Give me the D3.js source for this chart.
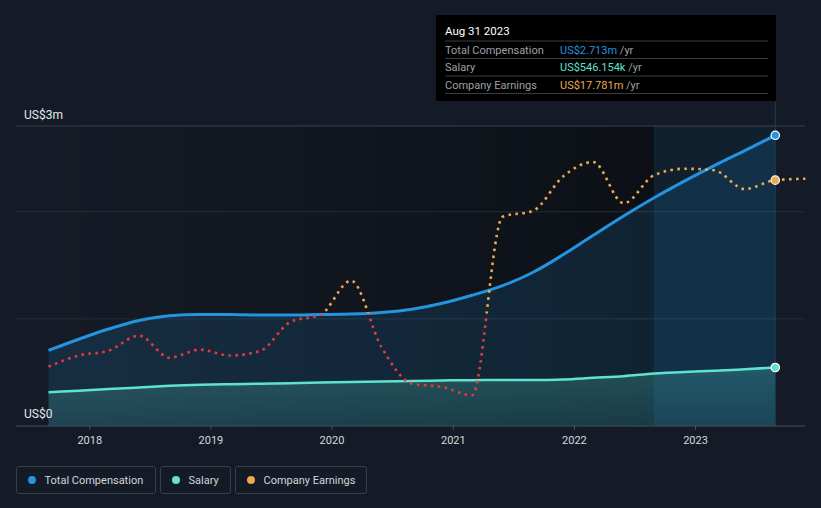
<!DOCTYPE html>
<html>
<head>
<meta charset="utf-8">
<script src="https://cdn.jsdelivr.net/npm/d3@7"></script>
<style>
  html, body { margin: 0; padding: 0; background: #151b26; }
  svg { display: block; font-family: Roboto, "Open Sans", sans-serif; }
</style>
</head>
<body>
<svg id="chart" width="821" height="508"></svg>
<script>
// ---------- DATA ----------
const dates = [
  "2017-08-31","2017-11-30","2018-02-28","2018-05-31","2018-08-31","2018-11-30",
  "2019-02-28","2019-05-31","2019-08-31","2019-11-30","2020-02-29","2020-05-31",
  "2020-08-31","2020-11-30","2021-02-28","2021-05-31","2021-08-31","2021-11-30",
  "2022-02-28","2022-05-31","2022-08-31","2022-11-30","2023-02-28","2023-05-31",
  "2023-08-31"
];
// US$ millions
const totalComp = [
  0.705, 0.81, 0.905, 0.985, 1.03, 1.04,
  1.04, 1.035, 1.035, 1.04, 1.045, 1.06,
  1.09, 1.145, 1.22, 1.31, 1.435, 1.60,
  1.78, 1.96, 2.13, 2.285, 2.43, 2.57,
  2.713
];
const salary = [
  0.315, 0.33, 0.345, 0.36, 0.375, 0.385,
  0.39, 0.395, 0.40, 0.405, 0.41, 0.415,
  0.42, 0.425, 0.428, 0.43, 0.43, 0.435,
  0.45, 0.465, 0.49, 0.505, 0.515, 0.53,
  0.546154
];
const earningsDates = dates.concat(["2023-11-30"]);
// US$ millions
const earnings = [
  -7.09, -5.6, -4.96, -2.95, -5.9, -4.82,
  -5.6, -5.0, -1.1, -0.15, 4.38, -4.5,
  -9.35, -9.8, -10.9, 12.9, 13.7, 18.3,
  20.2, 14.7, 18.45, 19.3, 19.1, 16.6,
  17.781, 17.97
];
const highlightStart = "2022-08-31";
const highlightEnd = "2023-08-31";
const yTickLabels = ["US$0", "US$3m"];
const gridValues = [1, 2];
const tooltipTitle = "Aug 31 2023";
const tooltipRows = [
  { label: "Total Compensation", value: "US$2.713m", color: "#2394df" },
  { label: "Salary", value: "US$546.154k", color: "#5fe3cd" },
  { label: "Company Earnings", value: "US$17.781m", color: "#e9aa50" }
];
const legendItems = [
  { label: "Total Compensation", color: "#2394df" },
  { label: "Salary", color: "#5fe3cd" },
  { label: "Company Earnings", color: "#e9aa50" }
];

// ---------- SETUP ----------
const parse = d3.timeParse("%Y-%m-%d");
const svg = d3.select("#chart");
const W = 821, H = 508;
const plotLeft = 16, plotRight = 805, plotTop = 126, plotBottom = 426;

const x = d3.scaleTime()
  .domain([new Date(2018, 0, 1), new Date(2023, 0, 1)])
  .range([89.3, 695]);
const y = d3.scaleLinear().domain([0, 2.8]).range([plotBottom, plotTop]);
const yE = d3.scaleLinear().domain([-15, 25]).range([plotBottom, plotTop]);

const compData = dates.map((d, i) => ({ date: parse(d), v: totalComp[i] }));
const salData = dates.map((d, i) => ({ date: parse(d), v: salary[i] }));
const earnData = earningsDates.map((d, i) => ({ date: parse(d), v: earnings[i] }));

const BLUE = "#2394df", TEAL = "#5fe3cd", ORANGE = "#e9aa50", RED = "#e5383f";

svg.append("rect").attr("width", W).attr("height", H).attr("fill", "#151b26");

const defs = svg.append("defs");
const dark = defs.append("linearGradient").attr("id", "darkGrad")
  .attr("gradientUnits", "userSpaceOnUse")
  .attr("x1", x(compData[0].date)).attr("x2", x(parse(highlightStart))).attr("y1", 0).attr("y2", 0);
dark.append("stop").attr("offset", 0).attr("stop-color", "#000").attr("stop-opacity", 0);
dark.append("stop").attr("offset", 1).attr("stop-color", "#000").attr("stop-opacity", 0.42);

const salGrad = defs.append("linearGradient").attr("id", "salGrad")
  .attr("gradientUnits", "userSpaceOnUse")
  .attr("x1", 0).attr("x2", 0).attr("y1", y(0.55)).attr("y2", plotBottom);
salGrad.append("stop").attr("offset", 0).attr("stop-color", TEAL).attr("stop-opacity", 0.24);
salGrad.append("stop").attr("offset", 1).attr("stop-color", TEAL).attr("stop-opacity", 0.12);

const xStart = x(compData[0].date);
const xEnd = x(compData[compData.length - 1].date);
const xHs = x(parse(highlightStart)), xHe = x(parse(highlightEnd));

// darkened plot background
svg.append("rect").attr("x", xStart).attr("y", plotTop)
  .attr("width", xHs - xStart).attr("height", plotBottom - plotTop)
  .attr("fill", "url(#darkGrad)");
svg.append("rect").attr("x", xHs).attr("y", plotTop)
  .attr("width", xHe - xHs).attr("height", plotBottom - plotTop)
  .attr("fill", "#000").attr("opacity", 0.3);

// gridlines
svg.append("line").attr("x1", plotLeft).attr("x2", plotRight)
  .attr("y1", y(2.8)).attr("y2", y(2.8)).attr("stroke", "#3b414b").attr("stroke-width", 1);
svg.selectAll(".grid").data(gridValues).enter().append("line")
  .attr("x1", plotLeft).attr("x2", plotRight)
  .attr("y1", d => y(d)).attr("y2", d => y(d))
  .attr("stroke", "#262c37").attr("stroke-width", 1);

// areas
const curve = d3.curveMonotoneX;
const compArea = d3.area().x(d => x(d.date)).y0(plotBottom).y1(d => y(d.v)).curve(curve);
const salArea = d3.area().x(d => x(d.date)).y0(plotBottom).y1(d => y(d.v)).curve(curve);
svg.append("path").datum(compData).attr("d", compArea)
  .attr("fill", BLUE).attr("fill-opacity", 0.15);
svg.append("path").datum(salData).attr("d", salArea).attr("fill", "url(#salGrad)");

// highlight band
svg.append("rect").attr("x", xHs).attr("y", plotTop)
  .attr("width", xHe - xHs).attr("height", plotBottom - plotTop)
  .attr("fill", BLUE).attr("opacity", 0.11);
svg.append("line").attr("x1", xHs).attr("x2", xHs).attr("y1", plotTop).attr("y2", plotBottom)
  .attr("stroke", BLUE).attr("stroke-opacity", 0.08);
// vertical marker line
svg.append("line").attr("x1", xEnd).attr("x2", xEnd).attr("y1", 101).attr("y2", plotBottom)
  .attr("stroke", "#1f3d57").attr("stroke-width", 1);

// lines
const lineGen = d3.line().x(d => x(d.date)).y(d => y(d.v)).curve(curve);
svg.append("path").datum(salData).attr("d", lineGen)
  .attr("fill", "none").attr("stroke", TEAL).attr("stroke-width", 2.5);
svg.append("path").datum(compData).attr("d", lineGen)
  .attr("fill", "none").attr("stroke", BLUE).attr("stroke-width", 3);

// earnings dotted line, red below zero
const y0E = yE(0);
defs.append("clipPath").attr("id", "clipPos").append("rect")
  .attr("x", 0).attr("y", 0).attr("width", W).attr("height", y0E);
defs.append("clipPath").attr("id", "clipNeg").append("rect")
  .attr("x", 0).attr("y", y0E).attr("width", W).attr("height", H - y0E);
const earnLine = d3.line().x(d => x(d.date)).y(d => yE(d.v)).curve(curve);
[["clipPos", ORANGE], ["clipNeg", RED]].forEach(([cp, col]) => {
  svg.append("path").datum(earnData).attr("d", earnLine)
    .attr("clip-path", `url(#${cp})`)
    .attr("fill", "none").attr("stroke", col).attr("stroke-width", 2.6)
    .attr("stroke-dasharray", "2.6,4.4");
});

// end markers
const last = compData.length - 1;
[[x(compData[last].date), y(totalComp[last]), BLUE],
 [x(salData[last].date), y(salary[last]), TEAL],
 [x(earnData[last].date), yE(earnings[last]), ORANGE]].forEach(([cx, cy, c]) => {
  svg.append("circle").attr("cx", cx).attr("cy", cy).attr("r", 4.2)
    .attr("fill", c).attr("stroke", "#fff").attr("stroke-width", 1.2);
});

// x axis
svg.append("line").attr("x1", plotLeft).attr("x2", plotRight)
  .attr("y1", plotBottom).attr("y2", plotBottom).attr("stroke", "#4a505a").attr("stroke-width", 1);
const xAxis = d3.axisBottom(x).ticks(d3.timeYear.every(1)).tickFormat(d3.timeFormat("%Y"))
  .tickSize(4).tickPadding(6);
const gx = svg.append("g").attr("transform", `translate(0,${plotBottom})`).call(xAxis);
gx.select(".domain").remove();
gx.selectAll(".tick line").attr("stroke", "#4a505a");
gx.selectAll(".tick text").attr("fill", "#d5d8dc").attr("font-size", 11)
  .attr("font-family", "Roboto, sans-serif");

// y labels
svg.append("text").attr("x", 24).attr("y", 119).attr("fill", "#e6e8ea")
  .attr("font-size", 12).text(yTickLabels[1]);
svg.append("text").attr("x", 24).attr("y", 418).attr("fill", "#e6e8ea")
  .attr("font-size", 12).text(yTickLabels[0]);

// tooltip
const tt = svg.append("g");
tt.append("rect").attr("x", 436).attr("y", 15).attr("width", 340).attr("height", 86).attr("fill", "#000");
tt.append("text").attr("x", 445).attr("y", 35).attr("fill", "#fff").attr("font-size", 11.5).text(tooltipTitle);
const sepY = [41, 58.5, 76, 93.5];
sepY.forEach(s => tt.append("line").attr("x1", 445).attr("x2", 768).attr("y1", s).attr("y2", s)
  .attr("stroke", "#3c3c3c").attr("stroke-width", 1));
tooltipRows.forEach((r, i) => {
  const by = 53.5 + i * 17.5;
  tt.append("text").attr("x", 445).attr("y", by).attr("fill", "#9da1a7").attr("font-size", 11).text(r.label);
  const t = tt.append("text").attr("x", 560).attr("y", by).attr("font-size", 11);
  t.append("tspan").attr("fill", r.color).text(r.value);
  t.append("tspan").attr("fill", "#9da1a7").text(" /yr");
});

// legend
const legX = [16.5, 160.5, 235.5];
const legW = [139, 70, 131];
legendItems.forEach((it, i) => {
  const g = svg.append("g").attr("transform", `translate(${legX[i]},466.5)`);
  g.append("rect").attr("width", legW[i]).attr("height", 27).attr("rx", 2)
    .attr("fill", "none").attr("stroke", "#3a404b").attr("stroke-width", 1);
  g.append("circle").attr("cx", 15.5).attr("cy", 13.5).attr("r", 4).attr("fill", it.color);
  g.append("text").attr("x", 28).attr("y", 17.5).attr("fill", "#d3d6da")
    .attr("font-size", 11).text(it.label);
});
</script>
</body>
</html>
